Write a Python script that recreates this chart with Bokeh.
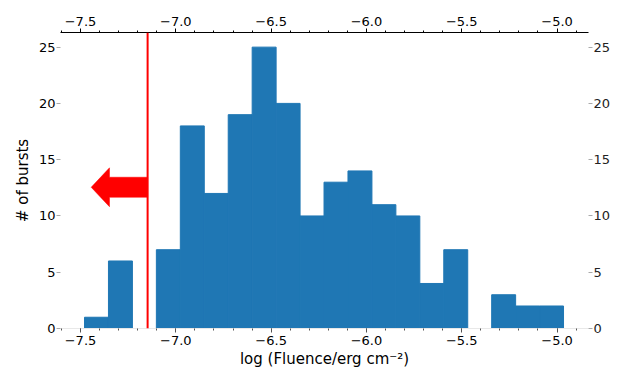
import numpy as np
from bokeh.plotting import figure
from bokeh.models import (LinearAxis, SingleIntervalTicker, CustomJSTickFormatter,
                          Span, ColumnDataSource, Range1d)
from bokeh.embed import file_html
from bokeh.resources import INLINE

# ---- data ----
counts = [1, 6, 0, 7, 18, 12, 19, 25, 20, 10, 13, 14, 11, 10, 4, 7, 0, 3, 2, 2]
bin_lo = -7.479
bin_hi = -4.966
limit_x = -7.148          # red threshold line
arrow_y = 12.55
arrow_tip_x = -7.444
arrow_head_base_x = -7.348
arrow_shaft_half = 0.89
arrow_head_half = 1.73
x_ticks_interval = 0.5
y_ticks = [0, 5, 10, 15, 20, 25]

edges = np.linspace(bin_lo, bin_hi, len(counts) + 1)
src = ColumnDataSource(dict(left=edges[:-1], right=edges[1:], top=counts,
                            bottom=[0] * len(counts)))

FONT = "DejaVu Sans"
BLUE = "#1f77b4"

p = figure(width=633, height=372, output_backend="svg", toolbar_location=None,
           x_range=Range1d(-7.605, -4.835), y_range=Range1d(0, 26.3),
           x_axis_location=None, y_axis_location=None,
           min_border_left=60, min_border_right=45, min_border_top=32,
           min_border_bottom=44)
p.outline_line_color = None
p.xgrid.visible = False
p.ygrid.visible = False

p.quad(left="left", right="right", top="top", bottom="bottom", source=src,
       fill_color=BLUE, line_color=BLUE, line_width=1)

# threshold line
p.add_layout(Span(location=limit_x, dimension="height", line_color="red",
                  line_width=2))

# arrow pointing left
ax = [limit_x, arrow_head_base_x, arrow_head_base_x, arrow_tip_x,
      arrow_head_base_x, arrow_head_base_x, limit_x]
ay = [arrow_y + arrow_shaft_half, arrow_y + arrow_shaft_half,
      arrow_y + arrow_head_half, arrow_y, arrow_y - arrow_head_half,
      arrow_y - arrow_shaft_half, arrow_y - arrow_shaft_half]
p.patch(ax, ay, fill_color="red", line_color="red", line_width=0.5)

fmt = CustomJSTickFormatter(code="""
    return (tick < -1e-9 ? '\\u2212' : '') + Math.abs(tick).toFixed(1);
""")


def style_x(axis, line_color, tick_color):
    axis.ticker = SingleIntervalTicker(interval=x_ticks_interval, num_minor_ticks=5)
    axis.formatter = fmt
    axis.axis_line_color = line_color
    axis.major_tick_line_color = tick_color
    axis.minor_tick_line_color = tick_color
    axis.major_tick_out = 4
    axis.major_tick_in = 0
    axis.minor_tick_out = 2
    axis.minor_tick_in = 0
    axis.major_label_text_font = FONT
    axis.major_label_text_font_size = "13px"
    axis.major_label_text_color = "black"
    axis.major_label_standoff = 3


top = LinearAxis()
style_x(top, "black", "black")
p.add_layout(top, "above")

bottom = LinearAxis(axis_label="log (Fluence/erg cm\u207b\u00b2)")
style_x(bottom, "#e8e8e8", "#555555")
bottom.axis_label_text_font = FONT
bottom.axis_label_text_font_size = "15px"
bottom.axis_label_text_font_style = "normal"
bottom.axis_label_text_color = "black"
bottom.axis_label_standoff = 2
p.add_layout(bottom, "below")


def style_y(axis):
    axis.ticker = y_ticks
    axis.axis_line_color = None
    axis.major_tick_line_color = "#aaaaaa"
    axis.major_tick_out = 4
    axis.major_tick_in = 0
    axis.minor_tick_line_color = None
    axis.major_label_text_font = FONT
    axis.major_label_text_font_size = "13px"
    axis.major_label_text_color = "black"
    axis.major_label_standoff = 1


left = LinearAxis(axis_label="# of bursts")
style_y(left)
left.axis_label_text_font = FONT
left.axis_label_text_font_size = "15px"
left.axis_label_text_font_style = "normal"
left.axis_label_text_color = "black"
left.axis_label_standoff = 4
p.add_layout(left, "left")

right = LinearAxis()
style_y(right)
right.major_label_text_color = "#222222"
p.add_layout(right, "right")

open("out.html", "w").write(file_html(p, INLINE))
